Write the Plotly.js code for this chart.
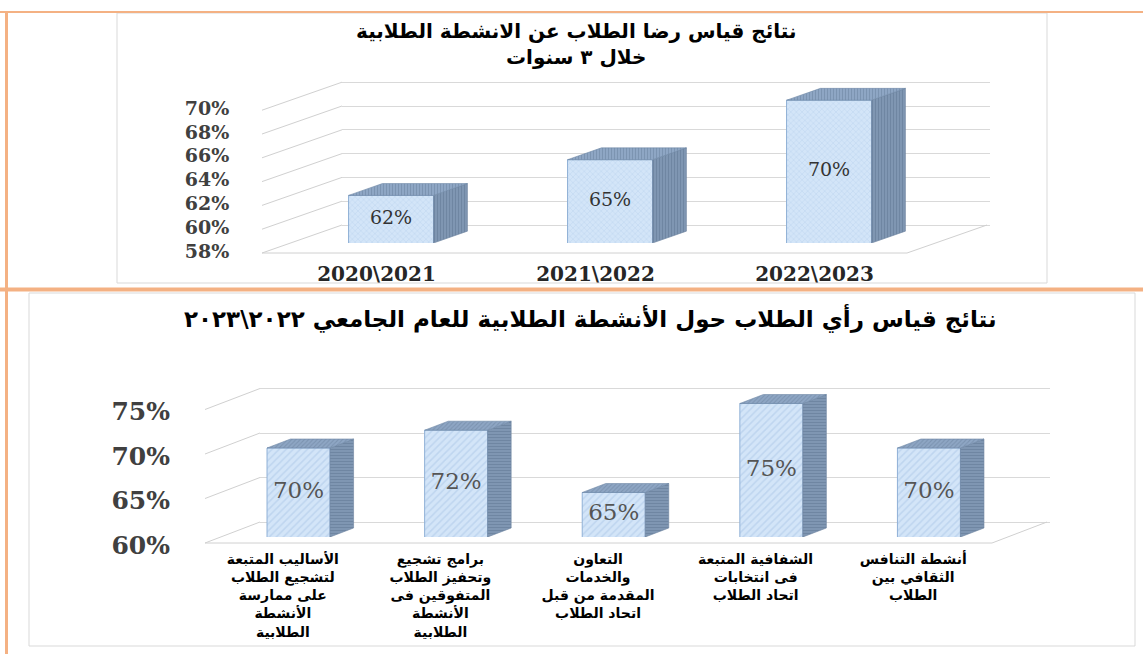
<!DOCTYPE html>
<html><head><meta charset="utf-8">
<script src="https://cdn.plot.ly/plotly-3.0.1.min.js"></script>
<style>html,body{margin:0;padding:0;background:#fff}#chart{width:1143px;height:654px}</style>
</head><body><div id="chart"></div>
<script>
// ---------------- data ----------------
const yearCategories = ['2020\\2021', '2021\\2022', '2022\\2023'];
const yearSatisfaction = [62, 65, 70];
const yearTicks = [58, 60, 62, 64, 66, 68, 70];

const activityCategories = [
  'الأساليب المتبعة<br>لتشجيع الطلاب<br>على ممارسة<br>الأنشطة<br>الطلابية',
  'برامج تشجيع<br>وتحفيز الطلاب<br>المتفوقين فى<br>الأنشطة<br>الطلابية',
  'التعاون<br>والخدمات<br>المقدمة من قبل<br>اتحاد الطلاب',
  'الشفافية المتبعة<br>فى انتخابات<br>اتحاد الطلاب',
  'أنشطة التنافس<br>الثقافي بين<br>الطلاب'
];
const activityOpinion = [70, 72, 65, 75, 70];
const activityTicks = [60, 65, 70, 75];

const topTitle = 'نتائج قياس رضا الطلاب عن الانشطة الطلابية<br>خلال ٣ سنوات';
const bottomTitle = 'نتائج قياس رأي الطلاب حول الأنشطة الطلابية للعام الجامعي ٢٠٢٢\\٢٠٢٣';

// ---------------- geometry / style ----------------
const W = 1143, H = 654;
const ARABIC = 'DejaVu Sans';
const SERIF = 'DejaVu Serif';

const topCfg = {
  ids: {x: 'x', y: 'y', yb: 'y2', yf: 'y3', xk: 'xaxis', yk: 'yaxis', ybk: 'yaxis2', yfk: 'yaxis3'},
  left: 262, right: 987, top: 78, bottom: 253, k: 11.9, c0: 362.5, u: 219,
  DX: 80, DY: 28, d1: 0.357, d2: 0.78, barPx: 85,
  frontPattern: {shape: 'x', size: 4, solidity: 0.25, fg: '#a8c4e4', bg: '#d3e5f8'},
  sidePattern: '|', topPattern: '|',
  yFont: {family: SERIF, size: 19, color: '#404040', weight: 'bold'},
  xFont: {family: SERIF, size: 20, color: '#262626', weight: 'bold'},
  valFont: {family: SERIF, size: 19, color: '#333333'},
  yTickLen: 25, xTickLen: 0, xShift: 14, yShift: -2
};
const botCfg = {
  ids: {x: 'x2', y: 'y4', yb: 'y5', yf: 'y6', xk: 'xaxis2', yk: 'yaxis4', ybk: 'yaxis5', yfk: 'yaxis6'},
  left: 205, right: 1047, top: 385, bottom: 543, k: 8.9, c0: 282.8, u: 157.6,
  DX: 55, DY: 21, d1: 0.286, d2: 0.714, barPx: 63,
  frontPattern: {shape: '/', size: 5, solidity: 0.3, fg: '#a9c6e6', bg: '#d3e5f8'},
  sidePattern: '-', topPattern: '/',
  yFont: {family: SERIF, size: 25, color: '#404040', weight: 'bold'},
  xFont: {family: ARABIC, size: 14, color: '#000000', weight: 'bold'},
  valFont: {family: SERIF, size: 23, color: '#555555'},
  yTickLen: 26, xTickLen: 0, xShift: 0, yShift: 2
};

const traces = [];
const layout = {
  width: W, height: H, margin: {l: 0, r: 0, t: 0, b: 0},
  paper_bgcolor: '#ffffff', plot_bgcolor: 'rgba(0,0,0,0)',
  showlegend: false, hovermode: false,
  shapes: [], annotations: []
};

function buildPanel(p, cats, vals, ticks) {
  const idx = cats.map((_, i) => i);
  const base = ticks[0];
  const pad = 3;
  const xr = [(p.left - pad - p.c0) / p.u, (p.right + pad - p.c0) / p.u];
  const yr = [base - pad / p.k, base + (p.bottom - p.top) / p.k];
  const xL = (p.left - p.c0) / p.u, xR = (p.right - p.c0) / p.u;
  const DXu = p.DX / p.u, DYu = p.DY / p.k;
  const s1x = p.d1 * DXu;
  const ox = (p.d2 - p.d1) * DXu, oy = (p.d2 - p.d1) * DYu;
  const w = p.barPx / p.u;
  const barBottomPx = p.bottom - p.d1 * p.DY;   // pixel row of the bars' base at their depth

  const xDomain = [(p.left - pad) / W, (p.right + pad) / W];
  const yDomain = [1 - (p.bottom + pad) / H, 1 - p.top / H];

  layout[p.ids.xk] = {
    domain: xDomain, range: xr, anchor: p.ids.y, fixedrange: true,
    tickmode: 'array', tickvals: idx, ticktext: cats,
    showgrid: false, zeroline: false, showline: false,
    ticks: 'outside', ticklen: p.xTickLen, tickcolor: 'rgba(0,0,0,0)',
    tickfont: p.xFont, ticklabelshift: p.xShift, tickangle: 0
  };
  layout[p.ids.yk] = {
    domain: yDomain, range: yr, anchor: p.ids.x, fixedrange: true,
    tickmode: 'array', tickvals: ticks, ticktext: ticks.map(t => t + '%'),
    showgrid: false, zeroline: false, showline: false,
    ticks: 'outside', ticklen: p.yTickLen, tickcolor: 'rgba(0,0,0,0)',
    tickfont: p.yFont, ticklabelshift: p.yShift
  };
  // back wall (grid) plane
  layout[p.ids.ybk] = {
    overlaying: p.ids.y, anchor: p.ids.x, range: [yr[0] - DYu, yr[1] - DYu], fixedrange: true,
    tickmode: 'array', tickvals: ticks, showticklabels: false, ticks: '',
    showgrid: true, gridcolor: '#d9d9d9', gridwidth: 1, zeroline: false, showline: false
  };
  // plane of the bars (its own strip, so bars are cut at the axis minimum like the original)
  layout[p.ids.yfk] = {
    anchor: p.ids.x, domain: [1 - barBottomPx / H, 1 - p.top / H],
    range: [base, base + (barBottomPx - p.top) / p.k], fixedrange: true,
    showticklabels: false, ticks: '', showgrid: false, zeroline: false, showline: false
  };

  // white cover hiding the grid left of the back-left corner (front-plane axis)
  traces.push({
    type: 'scatter', mode: 'lines', xaxis: p.ids.x, yaxis: p.ids.y,
    x: [xr[0], xL + DXu, xL + DXu, xr[0], xr[0]],
    y: [yr[0], yr[0], yr[1], yr[1], yr[0]],
    fill: 'toself', fillcolor: '#ffffff', line: {width: 0}, hoverinfo: 'skip'
  });
  // side wall lines and floor outline (back-plane axis)
  const wx = [], wy = [];
  ticks.forEach(t => { wx.push(xL, xL + DXu, null); wy.push(t - DYu, t, null); });
  wx.push(xL, xR - DXu, xR); wy.push(base - DYu, base - DYu, base);
  traces.push({
    type: 'scatter', mode: 'lines', xaxis: p.ids.x, yaxis: p.ids.yb,
    x: wx, y: wy, line: {color: '#d0d0d0', width: 1}, hoverinfo: 'skip', connectgaps: false
  });

  // bar front faces
  traces.push({
    type: 'bar', xaxis: p.ids.x, yaxis: p.ids.yf,
    x: idx, y: vals, width: w, offset: -w / 2 + s1x,
    marker: {
      color: p.frontPattern.bg,
      line: {color: '#8fb0d6', width: 1},
      pattern: {shape: p.frontPattern.shape, size: p.frontPattern.size, solidity: p.frontPattern.solidity,
                fgcolor: p.frontPattern.fg, bgcolor: p.frontPattern.bg, fillmode: 'overlay'}
    },
    text: vals.map(v => v + '%'), textposition: 'none', hoverinfo: 'skip'
  });

  // side and top faces
  const sx = [], sy = [], tx = [], ty = [];
  vals.forEach((v, i) => {
    const xl = i - w / 2 + s1x, xrr = i + w / 2 + s1x;
    sx.push(xrr, xrr + ox, xrr + ox, xrr, xrr, null);
    sy.push(base, base + oy, v + oy, v, base, null);
    tx.push(xl, xl + ox, xrr + ox, xrr, xl, null);
    ty.push(v, v + oy, v + oy, v, v, null);
  });
  traces.push({
    type: 'scatter', mode: 'lines', xaxis: p.ids.x, yaxis: p.ids.yf, x: sx, y: sy,
    fill: 'toself', fillcolor: '#7f96b2', line: {color: '#6b83a0', width: 0.6},
    fillpattern: {shape: p.sidePattern, size: 3, solidity: 0.35, fgcolor: '#5f7692', bgcolor: '#7f96b2', fillmode: 'overlay'},
    hoverinfo: 'skip', connectgaps: false
  });
  traces.push({
    type: 'scatter', mode: 'lines', xaxis: p.ids.x, yaxis: p.ids.yf, x: tx, y: ty,
    fill: 'toself', fillcolor: '#8ea6c4', line: {color: '#6f88a6', width: 0.6},
    fillpattern: {shape: p.topPattern, size: 3, solidity: 0.35, fgcolor: '#6a819d', bgcolor: '#8ea6c4', fillmode: 'overlay'},
    hoverinfo: 'skip', connectgaps: false
  });
  // value labels, centred on each front face
  traces.push({
    type: 'scatter', mode: 'text', xaxis: p.ids.x, yaxis: p.ids.yf,
    x: idx.map(i => i + s1x), y: vals.map(v => (v + base) / 2),
    text: vals.map(v => v + '%'), textposition: 'middle center',
    textfont: p.valFont, hoverinfo: 'skip', cliponaxis: false
  });
}

buildPanel(topCfg, yearCategories, yearSatisfaction, yearTicks);
buildPanel(botCfg, activityCategories, activityOpinion, activityTicks);

// ---------------- frames / decoration ----------------
function px(x) { return x / W; }
function py(y) { return 1 - y / H; }
const ORANGE = '#f4b183';
layout.shapes.push(
  {type: 'rect', xref: 'paper', yref: 'paper', x0: px(117), x1: px(1047), y0: py(13), y1: py(283), line: {color: '#d9d9d9', width: 1}},
  {type: 'rect', xref: 'paper', yref: 'paper', x0: px(29), x1: px(1135), y0: py(293), y1: py(646), line: {color: '#d9d9d9', width: 1}},
  {type: 'line', xref: 'paper', yref: 'paper', x0: px(0), x1: px(1143), y0: py(12), y1: py(12), line: {color: ORANGE, width: 2}},
  {type: 'line', xref: 'paper', yref: 'paper', x0: px(6.5), x1: px(6.5), y0: py(12), y1: py(654), line: {color: ORANGE, width: 3}},
  {type: 'line', xref: 'paper', yref: 'paper', x0: px(0), x1: px(1143), y0: py(289.5), y1: py(289.5), line: {color: ORANGE, width: 4}}
);
layout.annotations.push(
  {xref: 'paper', yref: 'paper', x: px(576), y: py(44), xanchor: 'center', yanchor: 'middle',
   text: topTitle, showarrow: false, font: {family: ARABIC, size: 20, color: '#000', weight: 'bold'}},
  {xref: 'paper', yref: 'paper', x: px(590), y: py(318), xanchor: 'center', yanchor: 'middle',
   text: bottomTitle, showarrow: false, font: {family: ARABIC, size: 23, color: '#000', weight: 'bold'}}
);

Plotly.newPlot('chart', traces, layout, {displayModeBar: false, staticPlot: true});
</script>
</body></html>
